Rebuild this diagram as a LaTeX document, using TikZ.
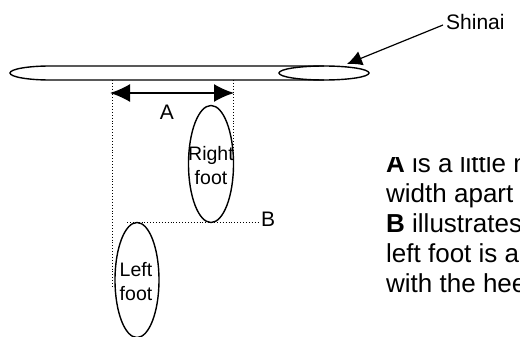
\documentclass[tikz,border=0pt]{standalone}
\usepackage{fontspec}
\setmainfont{Liberation Sans}
\usetikzlibrary{arrows.meta,shapes.geometric}
\begin{document}
\begin{tikzpicture}[x=1pt,y=-1pt,
  outl/.style={line width=1.4pt},
  dots/.style={line width=0.9pt, dotted},
  oval/.style={ellipse, draw, line width=1.4pt, inner sep=0pt},
  lbl/.style={font=\fontsize{21}{24}\selectfont, inner sep=0pt},
  footlbl/.style={font=\fontsize{19.5}{24}\selectfont, align=center, inner sep=0pt},
  para/.style={font=\fontsize{26}{30}\selectfont, anchor=base west, inner sep=0pt},
]
\useasboundingbox (0,0) rectangle (520,337);
% shinai
\draw[outl] (324,66) -- (50,66) arc[start angle=270, end angle=90, x radius=40, y radius=7] -- (324,80);
\node[oval, minimum width=90pt, minimum height=14pt] (tsuka) at (324,73) {};
\node[lbl, anchor=west] (shinai) at (446,22) {Shinai};
\coordinate (stip) at (347,64);
\draw[line width=1.2pt, -{Latex[length=15pt,width=15pt]}] (shinai.west) ++(-3,3) coordinate (sstart) -- (stip);
% feet
\node[oval, minimum width=45pt, minimum height=117pt] (rf) at (211,164) {};
\node[oval, minimum width=44pt, minimum height=115pt] (lf) at (137,280) {};
\node[footlbl] at (211,166) {Right\\foot};
\node[footlbl] at (136,282) {Left\\foot};
% A
\coordinate (aL) at (110,93);
\coordinate (aR) at (234,93);
\draw[line width=1.4pt, {Latex[length=20pt,width=18pt]}-{Latex[length=20pt,width=18pt]}] (aL) -- (aR);
\node[lbl] (A) at (167,112) {A};
\coordinate (d1a) at (112,80); \coordinate (d1b) at (112,287);
\coordinate (d2a) at (233,80); \coordinate (d2b) at (233,164);
\draw[dots] (d1a) -- (d1b);
\draw[dots] (d2a) -- (d2b);
% B
\coordinate (b1) at (127,222);
\coordinate (b2) at (258,222);
\draw[dots] (b1) -- (b2);
\node[lbl, anchor=west] (B) at (261,219) {B};
% paragraph
\begin{scope}
\clip (380,157) rectangle (520,337);
\node[para] (p1) at (386,172) {\textbf{A} is a little more};
\node[para] (p2) at (386,202) {width apart};
\node[para] (p3) at (386,232) {\textbf{B} illustrates};
\node[para] (p4) at (386,262) {left foot is a};
\node[para] (p5) at (386,292) {with the heel};
\end{scope}
\end{tikzpicture}
\end{document}
